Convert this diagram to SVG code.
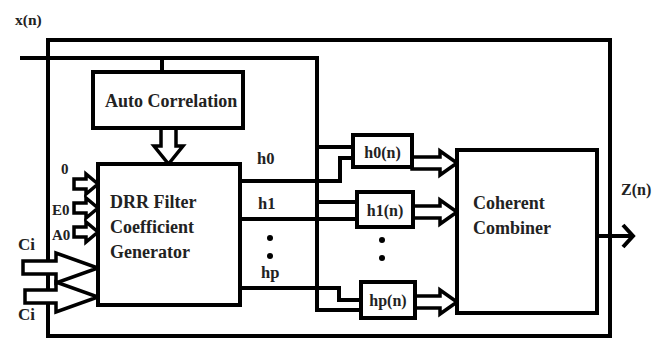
<svg xmlns="http://www.w3.org/2000/svg" width="668" height="339" viewBox="0 0 668 339">
<style>
.ln{fill:none;stroke:#000;stroke-width:4;stroke-linejoin:miter}
.bx{fill:#fff;stroke:#000;stroke-width:4}
.ar{fill:#fff;stroke:#000;stroke-width:3.5;stroke-linejoin:miter}
.t{font-family:"Liberation Serif","Times New Roman",serif;font-weight:bold;fill:#222}
.dot{fill:#000}
</style>
<rect width="668" height="339" fill="#fff"/>
<g id="outer"><rect class="ln" x="48" y="40" width="562" height="296"/></g>
<g id="connectors">
<polyline class="ln" points="20,58 317,58 317,310 361,310"/>
<line class="ln" x1="162" y1="58" x2="162" y2="72"/>
<line class="ln" x1="317" y1="147" x2="353" y2="147"/>
<line class="ln" x1="317" y1="202" x2="357" y2="202"/>
<polyline class="ln" points="240,181 340,181 340,158 353,158"/>
<line class="ln" x1="240" y1="219" x2="357" y2="219"/>
<polyline class="ln" points="240,288 339,288 339,300 361,300"/>
<line class="ln" x1="597" y1="236" x2="632" y2="236"/>
<polyline class="ln" points="623,225 633,236 623,247"/>
<polygon class="ar" points="161,128 176,128 176,146 183,146 168.5,164 154,146 161,146"/>
<polygon class="ar" points="74,179 86,179 86,174 98,184 86,194 86,189 74,189"/>
<polygon class="ar" points="74,203 86,203 86,198 98,208 86,218 86,213 74,213"/>
<polygon class="ar" points="74,227 86,227 86,222 98,232 86,242 86,237 74,237"/>
<polygon class="ar" points="23,261 56,261 56,253 98,268 56,283 56,274 23,274"/>
<polygon class="ar" points="25,290 56,290 56,282 98,297 56,312 56,303 25,303"/>
<polygon class="ar" points="412,157 440,157 440,151 457,163 440,175 440,169 412,169"/>
<polygon class="ar" points="413,206 440,206 440,200 457,212 440,224 440,218 413,218"/>
<polygon class="ar" points="415,296 440,296 440,290 457,302 440,314 440,308 415,308"/>
</g>
<g id="auto-correlation">
<rect class="bx" x="93" y="72" width="150" height="56"/>
<text class="t" x="105" y="107" font-size="18">Auto Correlation</text>
</g>
<g id="drr">
<rect class="bx" x="98" y="164" width="142" height="141"/>
<text class="t" x="110" y="208" font-size="18">DRR Filter</text>
<text class="t" x="110" y="233" font-size="18">Coefficient</text>
<text class="t" x="110" y="258" font-size="18">Generator</text>
</g>
<g id="h0n">
<rect class="bx" x="353" y="135" width="59" height="32"/>
<text class="t" x="382.5" y="158" font-size="16" text-anchor="middle">h0(n)</text>
</g>
<g id="h1n">
<rect class="bx" x="357" y="192" width="56" height="35"/>
<text class="t" x="385" y="216" font-size="16" text-anchor="middle">h1(n)</text>
</g>
<g id="hpn">
<rect class="bx" x="361" y="282" width="54" height="36"/>
<text class="t" x="388" y="306" font-size="16" text-anchor="middle">hp(n)</text>
</g>
<g id="combiner">
<rect class="bx" x="457" y="150" width="140" height="163"/>
<text class="t" x="473" y="209" font-size="18">Coherent</text>
<text class="t" x="473" y="234" font-size="18">Combiner</text>
</g>
<g id="labels">
<text class="t" x="15" y="25" font-size="15.5">x(n)</text>
<text class="t" x="621" y="195" font-size="16">Z(n)</text>
<text class="t" x="257" y="164" font-size="16.5">h0</text>
<text class="t" x="258" y="209" font-size="16.5">h1</text>
<text class="t" x="261" y="278" font-size="16.5">hp</text>
<text class="t" x="61" y="174" font-size="15">0</text>
<text class="t" x="52" y="215" font-size="15">E0</text>
<text class="t" x="52" y="240" font-size="15">A0</text>
<text class="t" x="18" y="250" font-size="17">Ci</text>
<text class="t" x="18" y="320" font-size="17">Ci</text>
<circle class="dot" cx="270" cy="238" r="3"/>
<circle class="dot" cx="270" cy="256" r="3"/>
<circle class="dot" cx="382" cy="240" r="3"/>
<circle class="dot" cx="382" cy="258" r="3"/>
</g>
</svg>
